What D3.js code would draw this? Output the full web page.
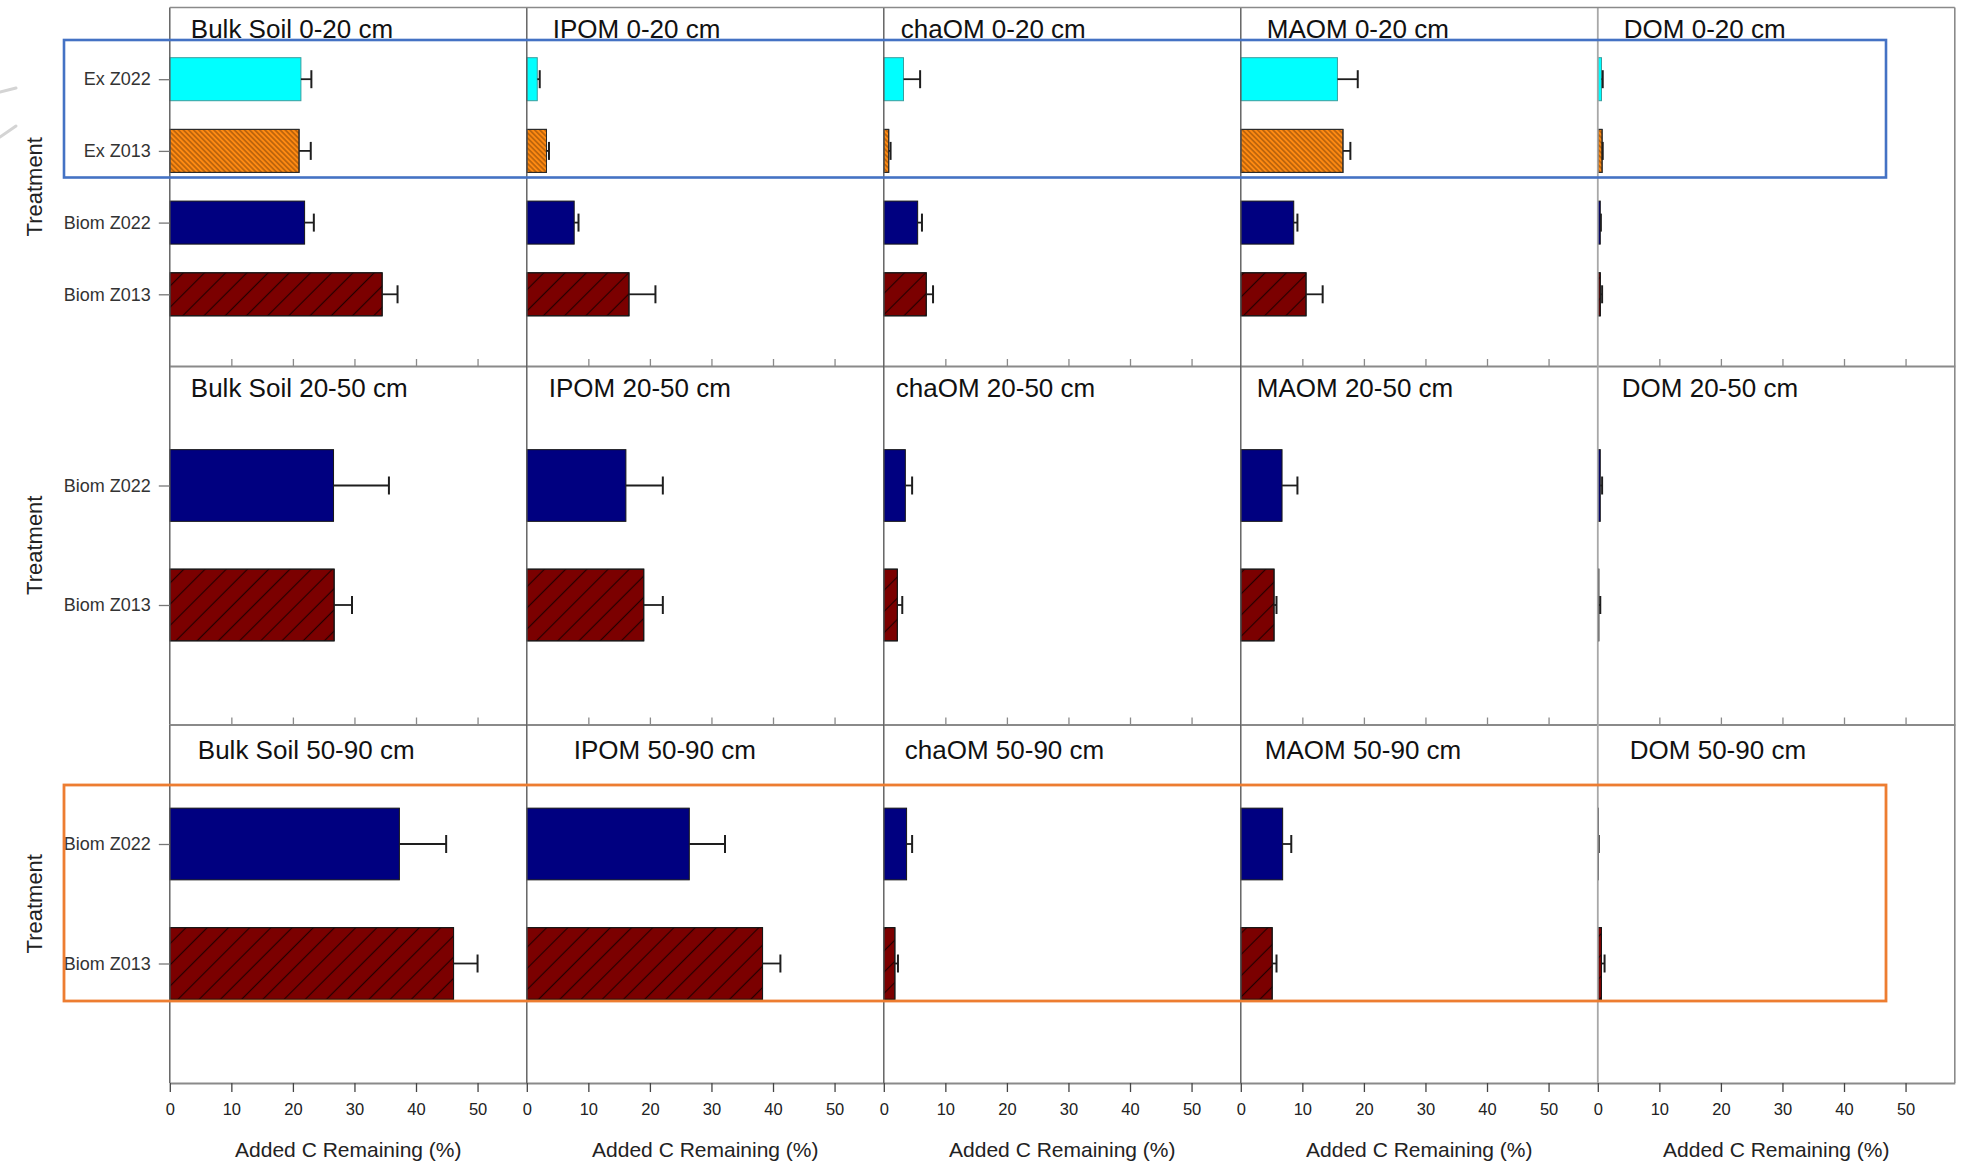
<!DOCTYPE html>
<html><head><meta charset="utf-8">
<script src="https://cdn.jsdelivr.net/npm/d3@7"></script>
<style>
html,body{margin:0;padding:0;background:#fff;}
svg{display:block;font-family:"Liberation Sans",Arial,Helvetica,sans-serif;}
</style></head><body>
<svg id="chart" width="1970" height="1166"></svg>
<script>
// Columns: carbon fractions; rows: soil depth layers
const fractions = ["Bulk Soil", "IPOM", "chaOM", "MAOM", "DOM"];
const depths = ["0-20 cm", "20-50 cm", "50-90 cm"];
const treatmentsTopsoil = ["Ex Z022", "Ex Z013", "Biom Z022", "Biom Z013"];
const treatmentsSubsoil = ["Biom Z022", "Biom Z013"];
const xTicks = [0, 10, 20, 30, 40, 50];
const xMax = 58;
const axisTitle = "Added C Remaining (%)";
const yTitle = "Treatment";

// Added C remaining (%) per fraction, in the order of `fractions`
const exZ022_0_20 = [21.3, 1.7, 3.2, 15.7, 0.6];
const exZ022_0_20_err = [1.7, 0.4, 2.7, 3.3, 0.2];
const exZ013_0_20 = [21.0, 3.2, 0.8, 16.6, 0.7];
const exZ013_0_20_err = [1.9, 0.4, 0.3, 1.2, 0.1];
const biomZ022_0_20 = [21.9, 7.7, 5.5, 8.6, 0.4];
const biomZ022_0_20_err = [1.5, 0.7, 0.7, 0.6, 0.1];
const biomZ013_0_20 = [34.5, 16.6, 6.9, 10.6, 0.4];
const biomZ013_0_20_err = [2.5, 4.3, 1.1, 2.7, 0.3];

const biomZ022_20_50 = [26.6, 16.1, 3.5, 6.7, 0.4];
const biomZ022_20_50_err = [9.0, 6.0, 1.1, 2.5, 0.3];
const biomZ013_20_50 = [26.7, 19.0, 2.2, 5.4, 0.15];
const biomZ013_20_50_err = [2.9, 3.1, 0.8, 0.4, 0.25];

const biomZ022_50_90 = [37.3, 26.4, 3.7, 6.8, 0.1];
const biomZ022_50_90_err = [7.6, 5.8, 0.9, 1.4, 0.05];
const biomZ013_50_90 = [46.1, 38.3, 1.8, 5.1, 0.6];
const biomZ013_50_90_err = [3.9, 2.9, 0.5, 0.7, 0.5];

const panelRows = [
  { depth: depths[0], treatments: treatmentsTopsoil,
    mean: [exZ022_0_20, exZ013_0_20, biomZ022_0_20, biomZ013_0_20],
    err: [exZ022_0_20_err, exZ013_0_20_err, biomZ022_0_20_err, biomZ013_0_20_err] },
  { depth: depths[1], treatments: treatmentsSubsoil,
    mean: [biomZ022_20_50, biomZ013_20_50],
    err: [biomZ022_20_50_err, biomZ013_20_50_err] },
  { depth: depths[2], treatments: treatmentsSubsoil,
    mean: [biomZ022_50_90, biomZ013_50_90],
    err: [biomZ022_50_90_err, biomZ013_50_90_err] }
];

// ---- layout ----
const plotLeft = 169.8, colW = 357, plotTop = 7.5, rowH = 358.5;
const plotRight = plotLeft + colW * fractions.length;
const plotBottom = plotTop + rowH * depths.length;
const titleInset = [[21, 26, 17, 26, 26], [21, 22, 12, 16, 24], [28, 47, 21, 24, 32]];
const titleDrop = [30, 31, 34];

const styles = {
  "Ex Z022":   { fill: "#00FFFF", stroke: "#3a9e9e", hatch: null },
  "Ex Z013":   { fill: "#FF8A12", stroke: "#2b2b2b", hatch: "hatchBack" },
  "Biom Z022": { fill: "#000080", stroke: "#161616", hatch: null },
  "Biom Z013": { fill: "#7B0000", stroke: "#161616", hatch: "hatchFwd" }
};

const svg = d3.select("#chart");
svg.append("rect").attr("width", 1970).attr("height", 1166).attr("fill", "#fff");

const defs = svg.append("defs");
function hatch(id, period, angle, color, width, opacity) {
  const p = defs.append("pattern").attr("id", id)
    .attr("patternUnits", "userSpaceOnUse")
    .attr("width", period).attr("height", period)
    .attr("patternTransform", `rotate(${angle})`);
  p.append("line").attr("x1", period / 2).attr("x2", period / 2)
    .attr("y1", 0).attr("y2", period)
    .attr("stroke", color).attr("stroke-width", width)
    .attr("stroke-opacity", opacity);
}
hatch("hatchFwd", 15, 45, "#1c0000", 1.2, 0.9);
hatch("hatchBack", 3.6, -45, "#3a1a00", 0.8, 0.75);

// faint stroke remnants at the left margin
svg.append("path").attr("d", "M0,92 L16,88 M0,137 L16,126")
  .attr("stroke", "#d4d4d4").attr("stroke-width", 3).attr("fill", "none")
  .attr("stroke-linecap", "round");

const g = svg.append("g");

panelRows.forEach((row, r) => {
  const y0 = plotTop + r * rowH, y1 = y0 + rowH;
  const y = d3.scalePoint().domain(row.treatments).range([y0, y1]).padding(1);
  const barH = y.step() * 0.6;

  fractions.forEach((frac, c) => {
    const x = d3.scaleLinear().domain([0, xMax])
      .range([plotLeft + c * colW, plotLeft + (c + 1) * colW]);
    const panel = g.append("g");

    const recs = row.treatments.map((t, i) => ({
      t, v: row.mean[i][c], e: row.err[i][c]
    }));

    // bars
    panel.selectAll("rect.bar").data(recs).join("rect")
      .attr("class", "bar")
      .attr("x", x(0)).attr("y", d => y(d.t) - barH / 2)
      .attr("width", d => x(d.v) - x(0)).attr("height", barH)
      .attr("fill", d => styles[d.t].fill)
      .attr("stroke", d => styles[d.t].stroke).attr("stroke-width", 1);
    panel.selectAll("rect.hatch").data(recs.filter(d => styles[d.t].hatch)).join("rect")
      .attr("class", "hatch")
      .attr("x", x(0)).attr("y", d => y(d.t) - barH / 2)
      .attr("width", d => x(d.v) - x(0)).attr("height", barH)
      .attr("fill", d => `url(#${styles[d.t].hatch})`)
      .attr("stroke", d => styles[d.t].stroke).attr("stroke-width", 1);

    // error bars
    panel.selectAll("line.err").data(recs).join("line")
      .attr("class", "err")
      .attr("x1", d => x(d.v)).attr("x2", d => x(d.v + d.e))
      .attr("y1", d => y(d.t)).attr("y2", d => y(d.t))
      .attr("stroke", "#1e1e1e").attr("stroke-width", 1.8);
    panel.selectAll("line.cap").data(recs).join("line")
      .attr("class", "cap")
      .attr("x1", d => x(d.v + d.e)).attr("x2", d => x(d.v + d.e))
      .attr("y1", d => y(d.t) - 9).attr("y2", d => y(d.t) + 9)
      .attr("stroke", "#1e1e1e").attr("stroke-width", 2);

    // x axis along the bottom of each row
    const last = r === panelRows.length - 1;
    const ax = last
      ? d3.axisBottom(x).tickValues(xTicks).tickSize(9).tickSizeOuter(0).tickPadding(11)
      : d3.axisBottom(x).tickValues(xTicks.slice(1)).tickSize(-7).tickSizeOuter(0).tickFormat("");
    const axG = panel.append("g").attr("transform", `translate(0,${y1})`).call(ax);
    axG.select(".domain").attr("stroke", "#8a8a8a").attr("stroke-width", 2);
    axG.selectAll(".tick line").attr("stroke", last ? "#444" : "#8a8a8a").attr("stroke-width", 1.3);
    axG.selectAll(".tick text").attr("font-size", 16.5).attr("fill", "#222")
      .attr("font-family", "Liberation Sans, Arial, sans-serif");

    // column separator / left axis
    panel.append("line")
      .attr("x1", x(0)).attr("x2", x(0)).attr("y1", y0).attr("y2", y1)
      .attr("stroke", c === 4 ? "#a8a8a8" : "#5a5a5a").attr("stroke-width", c === 4 ? 1.8 : 1.4);

    // category axis on the first column
    if (c === 0) {
      const yA = d3.axisLeft(y).tickSize(11).tickPadding(8);
      const yG = panel.append("g").attr("transform", `translate(${x(0)},0)`).call(yA);
      yG.select(".domain").remove();
      yG.selectAll(".tick line").attr("stroke", "#777").attr("stroke-width", 1.3);
      yG.selectAll(".tick text").attr("font-size", 18).attr("fill", "#333")
        .attr("font-family", "Liberation Sans, Arial, sans-serif");
    }

    // panel title
    panel.append("text")
      .attr("x", x(0) + titleInset[r][c]).attr("y", y0 + titleDrop[r])
      .attr("font-size", 26).attr("fill", "#111")
      .text(`${frac} ${row.depth}`);

    // x axis title under the bottom row
    if (last) {
      panel.append("text")
        .attr("x", (x.range()[0] + x.range()[1]) / 2).attr("y", 1157)
        .attr("text-anchor", "middle").attr("font-size", 21).attr("fill", "#222")
        .text(axisTitle);
    }
  });

  // y axis title for each row
  g.append("text")
    .attr("transform", `translate(34,${(y0 + y1) / 2}) rotate(-90)`)
    .attr("text-anchor", "middle").attr("dy", "0.35em")
    .attr("font-size", 22).attr("fill", "#222")
    .text(yTitle);
});

// outer frame: top and right edges
g.append("line").attr("x1", plotLeft).attr("x2", plotRight).attr("y1", plotTop).attr("y2", plotTop)
  .attr("stroke", "#8a8a8a").attr("stroke-width", 1.6);
g.append("line").attr("x1", plotRight).attr("x2", plotRight).attr("y1", plotTop).attr("y2", plotBottom)
  .attr("stroke", "#8a8a8a").attr("stroke-width", 1.6);

// highlight boxes around the excavated topsoil and the deepest subsoil layer
svg.append("rect").attr("x", 64).attr("y", 40).attr("width", 1822).attr("height", 137.5)
  .attr("fill", "none").attr("stroke", "#4472C4").attr("stroke-width", 2.6);
svg.append("rect").attr("x", 64).attr("y", 785).attr("width", 1822).attr("height", 216)
  .attr("fill", "none").attr("stroke", "#ED7D31").attr("stroke-width", 2.8);
</script>
</body></html>
